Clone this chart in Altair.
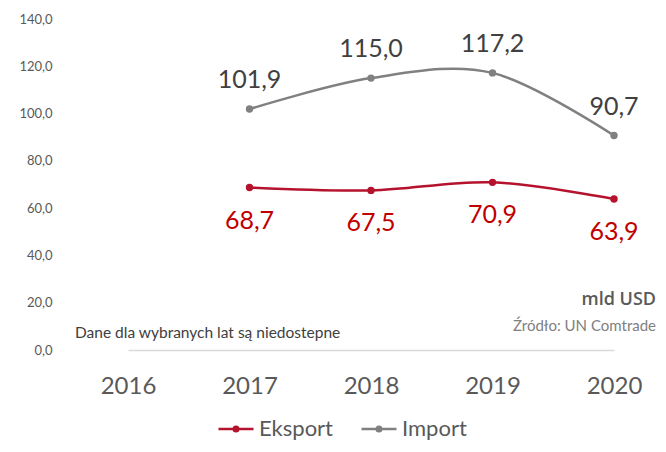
import altair as alt
import pandas as pd

years = ["2016", "2017", "2018", "2019", "2020"]
eksport = [None, 68.7, 67.5, 70.9, 63.9]
imports = [None, 101.9, 115.0, 117.2, 90.7]
series_names = ["Eksport", "Import"]
series_colors = ["#B5122E", "#808080"]

rows = []
for name, vals in (("Eksport", eksport), ("Import", imports)):
    for y, v in zip(years, vals):
        rows.append({"year": y, "series": name, "value": v,
                     "label": None if v is None else f"{v:.1f}".replace(".", ",")})
df = pd.DataFrame(rows)

note_text = ["mld USD", "Źródło:  UN Comtrade", "Dane dla wybranych lat są niedostepne"]
note_year = ["2020", "2020", "2016"]
note_value = [21.0, 10.0, 7.2]
notes = pd.DataFrame({"text": note_text, "year": note_year, "value": note_value})

FONT = "Lato"

xscale = alt.Scale(domain=years, type="point", range=[61, 547], padding=0)
yscale = alt.Scale(domain=[0, 140])

x_enc = alt.X("year:O", scale=xscale, title=None,
              axis=alt.Axis(labelFontSize=24, labelColor="#595959", labelFont=FONT,
                            domainColor="#D9D9D9", domainWidth=1.5, ticks=False, tickSize=0,
                            labelPadding=24, labelAngle=0, grid=False))
y_enc = alt.Y("value:Q", scale=yscale, title=None,
              axis=alt.Axis(values=[0, 20, 40, 60, 80, 100, 120, 140],
                            labelExpr="replace(format(datum.value, '.1f'), '.', ',')",
                            labelFontSize=13, labelColor="#595959", labelFont=FONT,
                            domain=False, ticks=False, tickSize=0, grid=False, labelPadding=15))

legend_path = ("M-1,0L1,0"
               "M-0.05,0a0.05,0.05 0 1,0 0.1,0a0.05,0.05 0 1,0 -0.1,0"
               "M-0.13,0a0.13,0.13 0 1,0 0.26,0a0.13,0.13 0 1,0 -0.26,0")

color_enc = alt.Color("series:N", scale=alt.Scale(domain=series_names, range=series_colors),
                      legend=alt.Legend(orient="none", legendX=150, legendY=391, direction="horizontal",
                                        title=None, symbolType=legend_path, symbolSize=1225,
                                        symbolStrokeWidth=2.5, labelFontSize=22, labelFont=FONT,
                                        labelColor="#595959", columnPadding=22, labelOffset=4))

valid = alt.Chart(df).transform_filter("isValid(datum.value)")

line = valid.mark_line(interpolate="cardinal", strokeWidth=2.5).encode(x=x_enc, y=y_enc, color=color_enc)
pts = valid.mark_circle(size=55, opacity=1).encode(x=x_enc, y=y_enc, color=color_enc)

lab_imp = valid.transform_filter("datum.series == 'Import'").mark_text(
    dy=-29, fontSize=25, font=FONT, color="#404040").encode(x=x_enc, y=y_enc, text="label:N")
lab_exp = valid.transform_filter("datum.series == 'Eksport'").mark_text(
    dy=33, fontSize=25, font=FONT, color="#C00000").encode(x=x_enc, y=y_enc, text="label:N")

nb = alt.Chart(notes)
n1 = nb.transform_filter("datum.text == 'mld USD'").mark_text(
    align="right", baseline="middle", dx=42, fontSize=18, fontWeight=600, font="Open Sans",
    color="#595959").encode(x=x_enc, y=y_enc, text="text:N")
n2 = nb.transform_filter("indexof(datum.text, 'Comtrade') >= 0").mark_text(
    align="right", baseline="middle", dx=42, fontSize=15, font=FONT,
    color="#808080").encode(x=x_enc, y=y_enc, text="text:N")
n3 = nb.transform_filter("indexof(datum.text, 'Dane') >= 0").mark_text(
    align="left", baseline="middle", dx=-53, fontSize=15.5, font=FONT,
    color="#404040").encode(x=x_enc, y=y_enc, text="text:N")

chart = alt.layer(line, pts, lab_imp, lab_exp, n1, n2, n3).properties(
    width=591, height=331,
    padding={"left": 59, "top": 11, "right": 0, "bottom": 94},
    autosize=alt.AutoSizeParams(type="none"),
    background="white",
).configure_view(stroke=None)

chart.save("out.html", embed_options={"renderer": "svg", "actions": False})
